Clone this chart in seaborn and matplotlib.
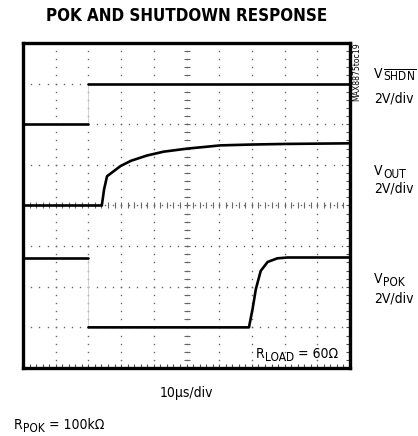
import numpy as np
import pandas as pd
import matplotlib.pyplot as plt
import seaborn as sns

# scope traces: time in us (10us/div), level in volts (2V/div)
shdn_t = [0, 20, 20, 100]
shdn_v = [0, 0, 2, 2]
vout_t = [0, 24.1, 24.8, 25.7, 29.8, 33.0, 37.9, 43.0, 50.2, 60.4, 69.6, 80.0, 99.3, 100]
vout_v = [0, 0, 0.8, 1.44, 1.94, 2.2, 2.46, 2.65, 2.80, 2.96, 3.0, 3.03, 3.06, 3.06]
pok_t = [0, 20, 20, 69.1, 70.2, 71.2, 72.7, 74.8, 77.8, 80.9, 100]
pok_v = [3.44, 3.44, 0, 0, 0.9, 1.88, 2.78, 3.22, 3.4, 3.44, 3.44]

channel_names = ["VSHDN", "VOUT", "VPOK"]
channel_zero = [6, 4, 1]  # screen division of each channel's 0V
volts_per_div = 2

sns.set_style("white")
plt.rcParams["font.family"] = ["DejaVu Sans"]
plt.rcParams["font.stretch"] = "condensed"
plt.rcParams["text.color"] = "black"
plt.rcParams["mathtext.fontset"] = "custom"
plt.rcParams["mathtext.rm"] = "DejaVu Sans:stretch=condensed"
plt.rcParams["mathtext.it"] = "DejaVu Sans:italic:stretch=condensed"
plt.rcParams["mathtext.bf"] = "DejaVu Sans:bold:stretch=condensed"

# build one table, split at the instant steps (drawn faint like the scope does)
rows = []
steps = []
seg = 0
for name, zero, ts, vs in zip(channel_names, channel_zero,
                              [shdn_t, vout_t, pok_t], [shdn_v, vout_v, pok_v]):
    for i, (t, v) in enumerate(zip(ts, vs)):
        y = zero + v / volts_per_div
        if i > 0 and t == ts[i - 1]:
            steps.append((t, zero + vs[i - 1] / volts_per_div, y))
            seg += 1
        rows.append({"channel": name, "seg": seg, "t": t, "y": y})
    seg += 1
df = pd.DataFrame(rows)

W, H = 418, 436
fig = plt.figure(figsize=(W / 100, H / 100), dpi=100)
ax = fig.add_axes([23 / W, 1 - 368 / H, 327 / W, 325 / H])
ax.set_xlim(0, 100)
ax.set_ylim(0, 8)

# dotted graticule
dot = dict(ls="none", marker="s", ms=1.0, color="0.4", mew=0)
gx = np.arange(0, 100.01, 2.5)
for k in range(1, 8):
    ax.plot(gx, np.full_like(gx, k), **dot)
gy = np.arange(0, 8.01, 0.2)
for k in range(10, 100, 10):
    ax.plot(np.full_like(gy, k), gy, **dot)

# centre axes with fine ticks
ax.plot(np.full_like(gy, 50), gy, ls="none", marker="_", ms=4, mew=0.8, color="0.4")
cx = np.arange(0, 100.01, 2)
ax.plot(cx, np.full_like(cx, 4), ls="none", marker="|", ms=4, mew=0.8, color="0.4")

# traces
for t, y0, y1 in steps:
    ax.plot([t, t], [y0, y1], color="0.8", lw=0.6)
sns.lineplot(data=df, x="t", y="y", units="seg", estimator=None, sort=False,
             color="black", lw=1.9, ax=ax, legend=False)

ax.set_xlabel("")
ax.set_ylabel("")
ax.set_xticks(np.arange(0, 101, 10))
ax.set_yticks(np.arange(0, 9, 1))
ax.set_xticks(np.arange(0, 101, 2), minor=True)
ax.set_yticks(np.arange(0, 8.01, 0.2), minor=True)
ax.tick_params(which="both", bottom=True, right=True, left=False, top=False,
               direction="in", length=3, width=0.8, color="0.3",
               labelbottom=False, labelleft=False)
for s in ax.spines.values():
    s.set_linewidth(2.4)
    s.set_color("black")

def px(x, y):
    return x / W, 1 - y / H

fs = 10
sub = 8.6
renderer = fig.canvas.get_renderer()

def width_px(text, size):
    t = fig.text(0, 0, text, fontsize=size)
    w = t.get_window_extent(renderer).width
    t.remove()
    return w

def sub_label(x, y, main, subscript, tail="", ha="left"):
    # main letter, then a lowered subscript, then optional tail text (pixel layout)
    w0 = width_px(main, fs)
    w1 = width_px(subscript, sub)
    w2 = width_px(tail, fs) if tail else 0
    if ha == "right":
        x = x - (w0 + w1 + w2 + 0.5)
    fig.text(*px(x, y), main, ha="left", va="baseline", fontsize=fs)
    fig.text(*px(x + w0 + 0.5, y + 3), subscript, ha="left", va="baseline", fontsize=sub)
    if tail:
        fig.text(*px(x + w0 + w1 + 0.5, y), tail, ha="left", va="baseline", fontsize=fs)

fig.text(*px(186.5, 16), "POK AND SHUTDOWN RESPONSE", ha="center", va="center",
         fontsize=12.2, fontweight="bold")
fig.text(*px(356.5, 42), "MAX8875toc19", rotation=90, ha="center", va="top",
         fontsize=6.2)
sub_label(374, 78, "V", r"$\overline{\mathrm{SHDN}}$")
fig.text(*px(374, 102), "2V/div", ha="left", va="baseline", fontsize=fs)
sub_label(374, 175, "V", "OUT")
fig.text(*px(374, 193), "2V/div", ha="left", va="baseline", fontsize=fs)
sub_label(374, 283, "V", "POK")
fig.text(*px(374, 303), "2V/div", ha="left", va="baseline", fontsize=fs)
sub_label(338, 358, "R", "LOAD", " = 60Ω", ha="right")
fig.text(*px(186.5, 397), "10µs/div", ha="center", va="baseline", fontsize=fs)
sub_label(14, 429, "R", "POK", " = 100kΩ")

fig.savefig("out.png", dpi=100)
